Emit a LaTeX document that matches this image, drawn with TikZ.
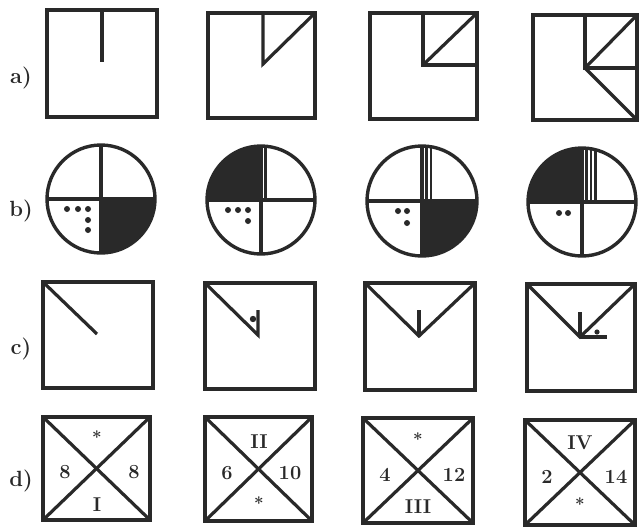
\documentclass[tikz,border=0pt]{standalone}
\definecolor{ink}{gray}{0.16}
\begin{document}
\begin{tikzpicture}[x=1pt,y=-1pt,line join=miter]
\tikzset{
  frame/.style={draw=ink,line width=4.2pt},
  ln/.style={draw=ink,line width=3.2pt},
  ring/.style={draw=ink,line width=3.4pt},
  stripe/.style={draw=ink,line width=2.4pt},
  lbl/.style={font=\fontsize{20}{22}\selectfont\bfseries,text=ink,inner sep=0pt},
  rowlbl/.style={font=\fontsize{22}{24}\selectfont\bfseries,text=ink,inner sep=0pt},
  star/.style={font=\fontsize{17}{19}\selectfont\bfseries,text=ink,inner sep=0pt}
}
\useasboundingbox (0,0) rectangle (641,530);
\fill[white] (0,0) rectangle (641,530);

% row labels
\node[rowlbl] (la) at (21,78) {a)};
\node[rowlbl] (lb) at (21,211) {b)};
\node[rowlbl] (lc) at (21,349) {c)};
\node[rowlbl] (ld) at (21,481) {d)};

% ---------- row a ----------
\draw[frame] (47,10) rectangle (157,117);
\draw[ln] (102,10) -- (102,62);

\draw[frame] (208,13) rectangle (315,118);
\draw[ln] (263,13) -- (263,64) -- (315,13);

\draw[frame] (370,13) rectangle (477,119);
\draw[ln] (423,13) -- (423,65) -- (477,65);
\draw[ln] (423,65) -- (477,13);

\draw[frame] (533,15) rectangle (637,120);
\draw[ln] (585,15) -- (585,68) -- (637,68);
\draw[ln] (585,68) -- (637,15);
\draw[ln] (585,68) -- (637,120);

% ---------- row b ----------
% circle 1
\begin{scope}
  \clip (101,199) rectangle (170,270);
  \fill[ink] (101,199) circle (54);
\end{scope}
\draw[ln] (47,199) -- (155,199);
\draw[ln] (101,145) -- (101,253);
\draw[ring] (101,199) circle (54);
\foreach \p in {(67,209),(78,209),(88,209),(88,220),(88,230)} \fill[ink] \p circle (3);

% circle 2
\begin{scope}
  \clip (261,200) rectangle (200,130);
  \fill[ink] (261,200) circle (54);
\end{scope}
\draw[ln] (207,200) -- (315,200);
\draw[ln] (261,146) -- (261,254);
\begin{scope}
  \clip (261,200) circle (54);
  \draw[stripe] (265.5,140) -- (265.5,200);
\end{scope}
\draw[ring] (261,200) circle (54);
\foreach \p in {(228,210),(238,210),(248,210),(248,221)} \fill[ink] \p circle (3);

% circle 3
\begin{scope}
  \clip (422,201) rectangle (490,270);
  \fill[ink] (422,201) circle (55);
\end{scope}
\draw[ln] (367,201) -- (477,201);
\draw[ln] (422,146) -- (422,256);
\begin{scope}
  \clip (422,201) circle (55);
  \draw[stripe] (426.5,140) -- (426.5,201);
  \draw[stripe] (431,140) -- (431,201);
\end{scope}
\draw[ring] (422,201) circle (55);
\foreach \p in {(398,211),(407,211),(407,223)} \fill[ink] \p circle (3);

% circle 4
\begin{scope}
  \clip (582,202) rectangle (520,140);
  \fill[ink] (582,202) circle (54);
\end{scope}
\draw[ln] (528,202) -- (636,202);
\draw[ln] (582,148) -- (582,256);
\begin{scope}
  \clip (582,202) circle (54);
  \draw[stripe] (586.5,140) -- (586.5,202);
  \draw[stripe] (591,140) -- (591,202);
  \draw[stripe] (595.5,140) -- (595.5,202);
\end{scope}
\draw[ring] (582,202) circle (54);
\foreach \p in {(559,213),(568,213)} \fill[ink] \p circle (3);

% ---------- row c ----------
\draw[frame] (43,282) rectangle (153,388);
\draw[ln] (43,282) -- (97,334);

\draw[frame] (205,283) rectangle (315,389);
\draw[ln] (205,283) -- (258,335) -- (258,310);
\fill[ink] (253,319) circle (3.2);

\draw[frame] (365,283) rectangle (475,390);
\draw[ln] (365,283) -- (419,336) -- (475,283);
\draw[ln] (419,336) -- (419,310);

\draw[frame] (527,284) rectangle (635,391);
\draw[ln] (527,284) -- (580,337) -- (635,284);
\draw[ln] (580,337) -- (580,312);
\draw[ln] (580,337) -- (607,337);
\fill[ink] (597,332) circle (2.6);

% ---------- row d ----------
\draw[frame] (43,417) rectangle (150,520);
\draw[ln] (43,417) -- (150,520);
\draw[ln] (150,417) -- (43,520);
\node[star] (d1t) at (97,437) {*};
\node[lbl] (d1l) at (65,472) {8};
\node[lbl] (d1r) at (134,472) {8};
\node[lbl] (d1b) at (97,505) {I};

\draw[frame] (205,417) rectangle (312,521);
\draw[ln] (205,417) -- (312,521);
\draw[ln] (312,417) -- (205,521);
\node[lbl] (d2t) at (259,442) {II};
\node[lbl] (d2l) at (227,473) {6};
\node[lbl] (d2r) at (290,473) {10};
\node[star] (d2b) at (259,503) {*};

\draw[frame] (363,418) rectangle (473,523);
\draw[ln] (363,418) -- (473,523);
\draw[ln] (473,418) -- (363,523);
\node[star] (d3t) at (418,439) {*};
\node[lbl] (d3l) at (385,475) {4};
\node[lbl] (d3r) at (454,475) {12};
\node[lbl] (d3b) at (418,507) {III};

\draw[frame] (525,420) rectangle (635,525);
\draw[ln] (525,420) -- (635,525);
\draw[ln] (635,420) -- (525,525);
\node[lbl] (d4t) at (580,443) {IV};
\node[lbl] (d4l) at (547,477) {2};
\node[lbl] (d4r) at (616,477) {14};
\node[star] (d4b) at (580,504) {*};
\end{tikzpicture}
\end{document}
